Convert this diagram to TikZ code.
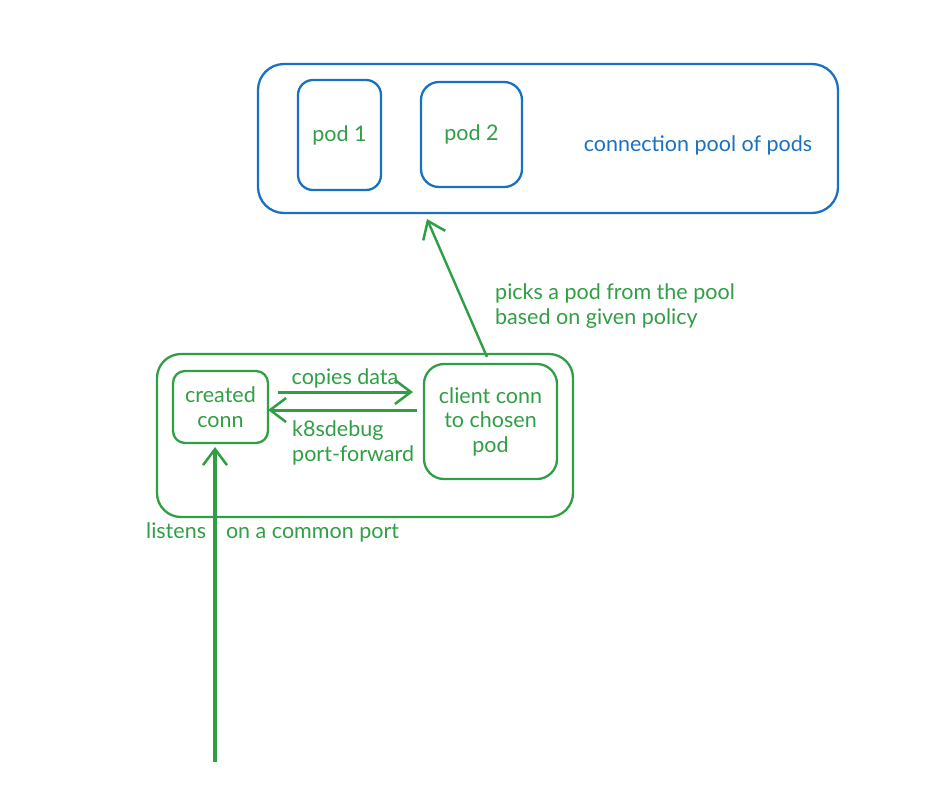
\documentclass[tikz,border=0pt]{standalone}
\usepackage{fontspec}
\setmainfont{Lato}
\usetikzlibrary{arrows.meta}
\definecolor{exgreen}{HTML}{2F9E44}
\definecolor{exblue}{HTML}{1971C2}
\begin{document}
\begin{tikzpicture}[x=1pt,y=-1pt,
  bluebox/.style={draw=exblue,line width=2.3pt},
  greenbox/.style={draw=exgreen,line width=2.3pt},
  gtext/.style={text=exgreen,font=\fontsize{21.5}{24.5}\selectfont,align=center,inner sep=0pt},
  btext/.style={text=exblue,font=\fontsize{21.5}{24.5}\selectfont,inner sep=0pt},
  arr/.style={draw=exgreen,line width=3pt,-{Straight Barb[length=16pt,width=24pt,line width=2.5pt]}}]
\useasboundingbox (0,0) rectangle (947,809);
% pool
\draw[bluebox,rounded corners=26pt] (258,64) rectangle (838,213);
\node[bluebox,rounded corners=15pt,minimum width=83pt,minimum height=110pt,inner sep=0pt] (pod1) at (339.5,135) {};
\node[bluebox,rounded corners=18pt,minimum width=101pt,minimum height=105pt,inner sep=0pt] (pod2) at (471.5,134.5) {};
\node[gtext] at (pod1) {pod 1};
\node[gtext] at (pod2) {pod 2};
\node[btext] (pooltxt) at (698,145) {connection pool of pods};
\coordinate (pooltarget) at (427,219);
% outer green
\draw[greenbox,rounded corners=24pt] (157,354) rectangle (573,517);
\node[greenbox,rounded corners=12pt,minimum width=95pt,minimum height=72pt,inner sep=0pt] (created) at (220.5,407) {};
\node[gtext] at (created) {created\\conn};
\node[greenbox,rounded corners=20pt,minimum width=133pt,minimum height=115pt,inner sep=0pt] (client) at (490.5,421.5) {};
\node[gtext] at (client) {client conn\\to chosen\\pod};
% arrows between
\coordinate (c1) at (278,392);
\coordinate (c2) at (413,392);
\draw[arr] (c1) -- (c2);
\coordinate (c3) at (417,410);
\coordinate (c4) at (268,410);
\draw[arr] (c3) -- (c4);
\node[gtext] (copies) at (345,378) {copies data};
\node[gtext,align=left,anchor=west] (k8s) at (292,443) {k8sdebug\\port-forward};
% picks arrow
\coordinate (pstart) at (487,357);
\draw[arr,line width=2.4pt] (pstart) -- (pooltarget);
\node[gtext,align=left,anchor=west] (picks) at (495,306) {picks a pod from the pool\\based on given policy};
% listen arrow
\coordinate (lstart) at (215,762);
\coordinate (lend) at (215,447);
\node[gtext,anchor=west] (listens) at (146,532) {listens\hspace{20pt}on a common port};
\draw[arr,line width=3.3pt] (lstart) -- (lend);
\end{tikzpicture}
\end{document}
